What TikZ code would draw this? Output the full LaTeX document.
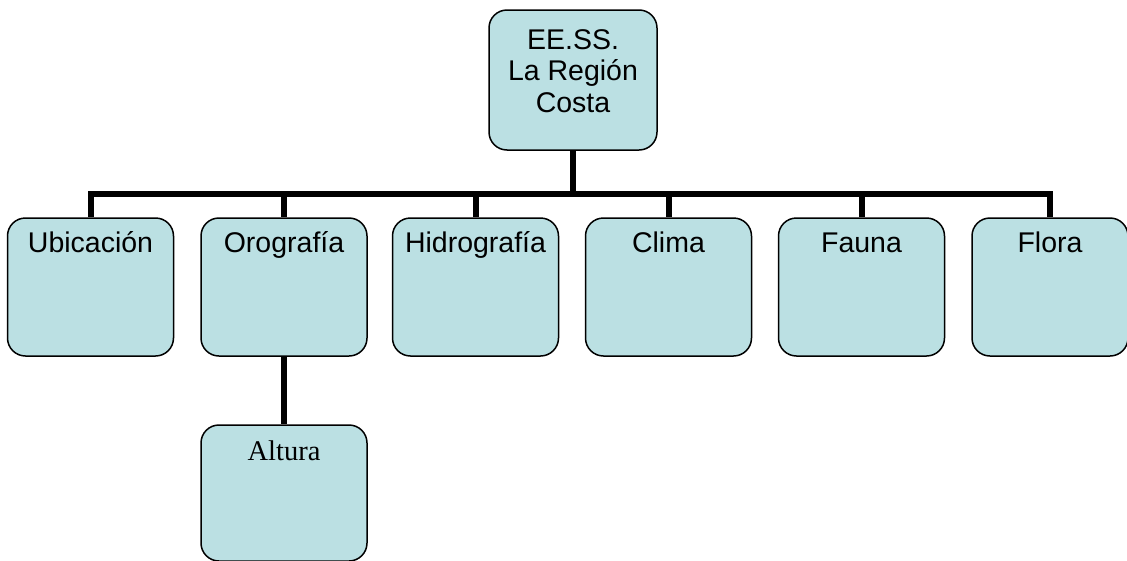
\documentclass[tikz,border=0pt]{standalone}
\usepackage{fontspec}
\setmainfont{Liberation Sans}
\newfontfamily\altfont{Liberation Serif}
\definecolor{boxfill}{RGB}{187,224,227}

\begin{document}
\begin{tikzpicture}[x=1pt,y=-1pt,
    box/.style={draw, line width=1.5pt, fill=boxfill, rounded corners=18pt,
      minimum width=166pt, minimum height=138pt, inner sep=0pt},
    conn/.style={line width=6pt},
    txt/.style={anchor=base, inner sep=0pt, font=\fontsize{28.5}{31.5}\selectfont, align=center}]

  \useasboundingbox (0,0) rectangle (1127,560);

  % Top box
  \node[box, minimum width=168pt, minimum height=140pt,
    label={[txt, yshift=-103pt]north:EE.SS.\\La Región\\Costa}] (costa) at (573,80) {};

  % Bus
  \coordinate (bus) at (573,194);

  % Second level
  \node[box, label={[txt, yshift=-35pt]north:Ubicación}] (ubic) at (90.5,287) {};
  \node[box, label={[txt, yshift=-35pt]north:Orografía}] (oro) at (284,287) {};
  \node[box, label={[txt, yshift=-35pt]north:Hidrografía}] (hidro) at (475.5,287) {};
  \node[box, label={[txt, yshift=-35pt]north:Clima}] (clima) at (668.5,287) {};
  \node[box, label={[txt, yshift=-35pt]north:Fauna}] (fauna) at (861.5,287) {};
  \node[box, minimum width=156pt,
    label={[txt, yshift=-35pt]north:Flora}] (flora) at (1050,287) {};

  % Third level
  \node[box, minimum height=136pt,
    label={[txt, yshift=-36pt, font=\altfont\fontsize{28.5}{31.5}\selectfont]north:Altura}] (altura) at (284,493) {};

  % Connectors
  \foreach \n in {ubic,oro,hidro,clima,fauna,flora}
    \draw[conn] (costa.south) |- (\n.north |- bus) -- (\n.north);
  \draw[conn] (oro.south) -- (altura.north);

\end{tikzpicture}
\end{document}
